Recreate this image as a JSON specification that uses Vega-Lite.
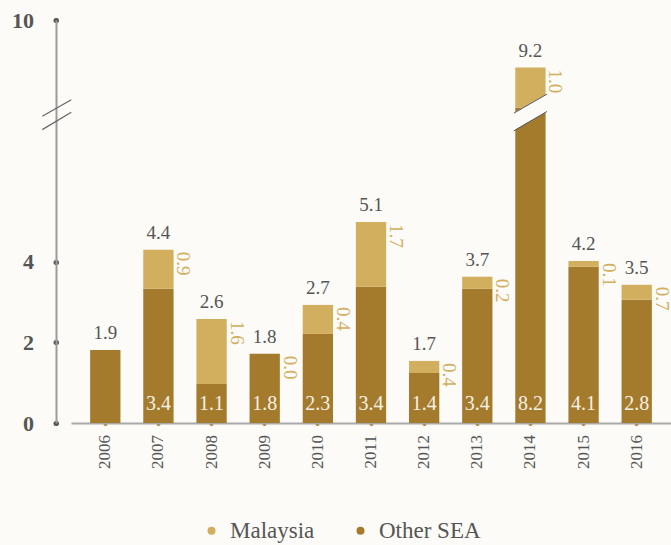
{
  "$schema": "https://vega.github.io/schema/vega-lite/v6.json",
  "width": 600,
  "height": 403,
  "autosize": {"type": "none"},
  "padding": {"left": 71, "top": 20, "right": 0, "bottom": 122},
  "background": "#fcfbf7",
  "config": {
    "font": "Liberation Serif",
    "view": {"stroke": null}
  },
  "datasets": {
    "bars": [
      {"year": "2006", "series": "Other SEA", "value": 1.81, "label": "", "total": "1.9"},
      {"year": "2007", "series": "Other SEA", "value": 3.33, "label": "3.4", "total": "4.4"},
      {"year": "2007", "series": "Malaysia", "value": 0.97, "label": "0.9"},
      {"year": "2008", "series": "Other SEA", "value": 0.97, "label": "1.1", "total": "2.6"},
      {"year": "2008", "series": "Malaysia", "value": 1.61, "label": "1.6"},
      {"year": "2009", "series": "Other SEA", "value": 1.72, "label": "1.8", "total": "1.8"},
      {"year": "2009", "series": "Malaysia", "value": 0.0, "label": "0.0"},
      {"year": "2010", "series": "Other SEA", "value": 2.21, "label": "2.3", "total": "2.7"},
      {"year": "2010", "series": "Malaysia", "value": 0.72, "label": "0.4"},
      {"year": "2011", "series": "Other SEA", "value": 3.38, "label": "3.4", "total": "5.1"},
      {"year": "2011", "series": "Malaysia", "value": 1.61, "label": "1.7"},
      {"year": "2012", "series": "Other SEA", "value": 1.24, "label": "1.4", "total": "1.7"},
      {"year": "2012", "series": "Malaysia", "value": 0.30, "label": "0.4"},
      {"year": "2013", "series": "Other SEA", "value": 3.33, "label": "3.4", "total": "3.7"},
      {"year": "2013", "series": "Malaysia", "value": 0.30, "label": "0.2"},
      {"year": "2014", "series": "Other SEA", "value": 7.82, "label": "8.2", "total": "9.2"},
      {"year": "2014", "series": "Malaysia", "value": 1.0, "label": "1.0"},
      {"year": "2015", "series": "Other SEA", "value": 3.88, "label": "4.1", "total": "4.2"},
      {"year": "2015", "series": "Malaysia", "value": 0.14, "label": "0.1"},
      {"year": "2016", "series": "Other SEA", "value": 3.06, "label": "2.8", "total": "3.5"},
      {"year": "2016", "series": "Malaysia", "value": 0.37, "label": "0.7"}
    ],
    "barGap": [{"year": "2014", "y": 7.43, "y2": 8.0}],
    "barGapEdges": [
      {"year": "2014", "y": 7.69, "y2": 8.16},
      {"year": "2014", "y": 7.25, "y2": 7.73}
    ],
    "axisBreak": [
      {"year": "2006", "y": 7.61, "y2": 8.02},
      {"year": "2006", "y": 7.28, "y2": 7.71}
    ]
  },
  "encoding": {
    "x": {
      "field": "year",
      "type": "nominal",
      "title": null,
      "scale": {"paddingInner": 0.43, "paddingOuter": 0.36},
      "axis": {
        "labelAngle": -90,
        "labelFont": "Liberation Serif",
        "labelFontSize": 17,
        "labelColor": "#555",
        "labelPadding": 11,
        "domainColor": "#aaaaaa",
        "domainWidth": 2,
        "tickColor": "#a47a2c",
        "tickSize": 0.5,
        "tickWidth": 4,
        "tickCap": "round",
        "title": null
      }
    }
  },
  "layer": [
    {
      "data": {"name": "bars"},
      "mark": {"type": "bar"},
      "encoding": {
        "y": {
          "field": "value",
          "type": "quantitative",
          "stack": "zero",
          "title": null,
          "scale": {"domain": [0, 10], "nice": false},
          "axis": {
            "values": [0, 2, 4, 10],
            "offset": 15,
            "domainColor": "#9c9c9c",
            "domainWidth": 2,
            "tickColor": "#555",
            "tickWidth": 5,
            "tickSize": 0.5,
            "tickCap": "round",
            "labelFont": "Liberation Serif",
            "labelFontSize": 22,
            "labelFontWeight": "bold",
            "labelColor": "#555",
            "labelPadding": 22,
            "grid": false,
            "title": null
          }
        },
        "color": {
          "field": "series",
          "type": "nominal",
          "scale": {"domain": ["Malaysia", "Other SEA"], "range": ["#d2ae5f", "#a47a2c"]},
          "legend": {
            "orient": "none",
            "legendX": 129,
            "legendY": 499,
            "direction": "horizontal",
            "title": null,
            "symbolType": "circle",
            "symbolSize": 64,
            "symbolOpacity": 1,
            "labelFont": "Liberation Serif",
            "labelFontSize": 23,
            "labelColor": "#555",
            "columnPadding": 34,
            "labelOffset": 7,
            "padding": 0
          }
        },
        "order": {"field": "series", "sort": "descending"}
      }
    },
    {
      "data": {"name": "barGap"},
      "mark": {"type": "rule", "color": "#fcfbf7", "strokeWidth": 15.5, "strokeCap": "butt", "xOffset": -20, "x2Offset": 20},
      "encoding": {
        "x2": {"field": "year"},
        "y": {"field": "y", "type": "quantitative", "title": null},
        "y2": {"field": "y2"}
      }
    },
    {
      "data": {"name": "barGapEdges"},
      "mark": {"type": "rule", "color": "#555", "strokeWidth": 1, "xOffset": -16.5, "x2Offset": 16.5},
      "encoding": {
        "x2": {"field": "year"},
        "y": {"field": "y", "type": "quantitative", "title": null},
        "y2": {"field": "y2"}
      }
    },
    {
      "data": {"name": "axisBreak"},
      "mark": {"type": "rule", "color": "#666", "strokeWidth": 1.2, "xOffset": -63, "x2Offset": -34},
      "encoding": {
        "x2": {"field": "year"},
        "y": {"field": "y", "type": "quantitative", "title": null},
        "y2": {"field": "y2"}
      }
    },
    {
      "data": {"name": "bars"},
      "transform": [
        {"joinaggregate": [{"op": "sum", "field": "value", "as": "top"}], "groupby": ["year"]},
        {"filter": "datum.series === 'Other SEA'"}
      ],
      "mark": {"type": "text", "font": "Liberation Serif", "dy": -11, "baseline": "alphabetic", "fontSize": 19, "color": "#555"},
      "encoding": {
        "y": {"field": "top", "type": "quantitative", "title": null},
        "text": {"field": "total"}
      }
    },
    {
      "data": {"name": "bars"},
      "transform": [{"filter": "datum.series === 'Other SEA'"}],
      "mark": {"type": "text", "font": "Liberation Serif", "dy": -13, "baseline": "alphabetic", "fontSize": 20, "color": "#f6f1e4"},
      "encoding": {
        "y": {"datum": 0, "type": "quantitative", "title": null},
        "text": {"field": "label"}
      }
    },
    {
      "data": {"name": "bars"},
      "transform": [
        {"joinaggregate": [{"op": "sum", "field": "value", "as": "top"}], "groupby": ["year"]},
        {"filter": "datum.series === 'Malaysia'"}
      ],
      "mark": {"type": "text", "font": "Liberation Serif", "angle": 90, "align": "left", "baseline": "alphabetic", "fontSize": 19, "color": "#d2ae5f", "xOffset": 19, "yOffset": 2},
      "encoding": {
        "y": {"field": "top", "type": "quantitative", "title": null},
        "text": {"field": "label"}
      }
    }
  ]
}
